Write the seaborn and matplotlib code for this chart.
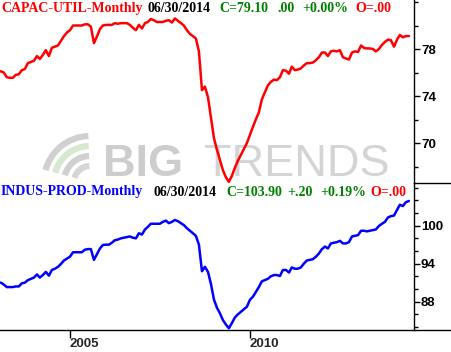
import numpy as np
import pandas as pd
import matplotlib
matplotlib.use("Agg")
import matplotlib.pyplot as plt
import seaborn as sns
from matplotlib.ticker import FixedLocator, MultipleLocator
from matplotlib.lines import Line2D
from matplotlib.transforms import Affine2D
from matplotlib.patches import Arc

# ---------------- data (monthly, Jan 2003 .. Jun 2014) ----------------
start_month = "2003-01-01"

capac_util = [
    76.1, 76.1, 76.0, 75.6, 75.55, 75.55, 75.8, 75.85, 76.2, 76.3, 76.8, 76.9,
    77.0, 77.4, 77.15, 77.5, 77.9, 77.4, 78.1, 78.2, 78.3, 78.7, 79.1, 79.4,
    79.6, 80.0, 80.0, 80.0, 80.0, 80.1, 80.1, 79.9, 78.5, 79.05, 79.7, 80.0,
    80.05, 80.05, 80.05, 80.2, 80.15, 80.2, 80.2, 80.2, 80.05, 79.8, 79.6, 80.05,
    79.75, 80.2, 80.3, 80.55, 80.45, 80.3, 80.3, 80.3, 80.4, 80.45, 80.25, 80.6,
    80.4, 80.2, 80.0, 79.6, 79.3, 79.1, 78.9, 77.8, 74.5, 74.8, 73.9, 72.2,
    70.4, 69.4, 68.6, 67.7, 67.1, 66.7, 67.2, 67.9, 68.5, 69.0, 69.5, 70.0,
    70.7, 71.4, 72.0, 72.6, 73.7, 74.3, 74.9, 75.2, 75.4, 75.35, 75.6, 76.2,
    76.15, 75.9, 76.5, 76.2, 76.25, 76.35, 76.6, 76.8, 76.8, 76.85, 77.05, 77.3,
    77.7, 77.7, 77.4, 77.8, 77.85, 77.8, 77.9, 77.3, 77.2, 77.1, 77.7, 77.8,
    77.75, 78.3, 78.1, 78.05, 78.05, 78.0, 77.8, 78.0, 78.35, 78.6, 78.8, 78.75,
    78.2, 78.8, 79.2, 79.0, 79.1, 79.1,
]

indus_prod = [
    91.0, 91.0, 90.7, 90.3, 90.3, 90.3, 90.4, 90.4, 90.9, 91.0, 91.4, 91.6,
    91.8, 92.3, 91.8, 92.2, 92.7, 92.1, 93.0, 93.2, 93.5, 93.95, 94.5, 94.8,
    95.1, 95.8, 95.8, 95.8, 95.8, 96.2, 96.3, 96.3, 94.6, 95.5, 96.4, 96.95,
    97.0, 97.0, 97.3, 97.7, 97.8, 98.0, 98.1, 98.2, 98.3, 98.1, 98.0, 98.8,
    98.6, 99.4, 99.8, 100.3, 100.3, 100.3, 100.3, 100.6, 100.8, 100.4, 100.6, 100.9,
    100.7, 100.4, 100.1, 99.6, 99.2, 98.8, 98.4, 97.0, 92.8, 93.5, 92.7, 90.8,
    88.3, 87.0, 86.2, 85.1, 84.4, 83.8, 84.6, 85.5, 86.0, 86.4, 86.8, 87.2,
    88.3, 88.8, 89.5, 90.3, 91.2, 91.4, 91.6, 92.0, 92.2, 92.2, 92.05, 93.0,
    93.0, 92.6, 93.4, 93.2, 93.2, 93.4, 94.0, 94.5, 94.6, 94.7, 95.1, 95.6,
    96.3, 96.7, 96.4, 97.2, 97.3, 97.4, 97.6, 97.2, 97.2, 97.4, 98.3, 98.4,
    98.5, 99.2, 99.2, 99.1, 99.2, 99.3, 99.4, 99.95, 100.3, 100.6, 101.3, 101.5,
    101.6, 102.5, 103.3, 103.1, 103.7, 103.9,
]

top_ticks = [70, 74, 78]
bottom_ticks = [88, 94, 100]
year_ticks = ["2005", "2010"]

top_title = ["CAPAC-UTIL-Monthly", "06/30/2014", "C=79.10", ".00", "+0.00%", "O=.00"]
bottom_title = ["INDUS-PROD-Monthly", "06/30/2014", "C=103.90", "+.20", "+0.19%", "O=.00"]

dates = pd.date_range(start_month, periods=len(capac_util), freq="MS")
df = pd.DataFrame({"date": dates, "capac": capac_util, "indus": indus_prod})

# ---------------- figure ----------------
sns.set_theme(style="white")
plt.rcParams["font.family"] = ["Liberation Sans", "DejaVu Sans"]

W, H = 451, 352
fig = plt.figure(figsize=(W / 100, H / 100), dpi=100)
fig.patch.set_facecolor("white")

plot_right = 414
div_y = 183
bot_y = 330

ax_top = fig.add_axes([0, 1 - div_y / H, plot_right / W, div_y / H])
ax_bot = fig.add_axes([0, 1 - bot_y / H, plot_right / W, (bot_y - div_y) / H])

sns.lineplot(data=df, x="date", y="capac", ax=ax_top, color="#ff0000", lw=1.8, zorder=3)
sns.lineplot(data=df, x="date", y="indus", ax=ax_bot, color="#0000ff", lw=1.8, zorder=3)

ref = pd.Timestamp("2005-01-01")
xl = (ref - pd.Timedelta(days=710), ref + pd.Timedelta(days=3490))
for ax in (ax_top, ax_bot):
    ax.set_xlim(*xl)
    ax.set_xlabel("")
    ax.set_ylabel("")
    ax.grid(False)
    for s in ("top", "left"):
        ax.spines[s].set_visible(False)
    ax.spines["right"].set_color("black")
    ax.spines["right"].set_linewidth(1)
    ax.yaxis.tick_right()
    ax.tick_params(axis="y", which="major", direction="out", length=4, width=1,
                   color="black", pad=1, labelsize=9.5, labelcolor="black", right=True)
    ax.tick_params(axis="y", which="minor", direction="out", length=3, width=1,
                   color="black", right=True)

ax_top.set_ylim(66.6, 82.17)
ax_top.yaxis.set_major_locator(FixedLocator(top_ticks))
ax_top.yaxis.set_minor_locator(MultipleLocator(2))
ax_top.set_yticklabels([str(t) for t in top_ticks], fontweight="bold")
ax_top.spines["bottom"].set_visible(False)
ax_top.tick_params(axis="x", which="both", bottom=False, labelbottom=False)

ax_bot.set_ylim(83.52, 106.74)
ax_bot.yaxis.set_major_locator(FixedLocator(bottom_ticks))
ax_bot.yaxis.set_minor_locator(MultipleLocator(2))
ax_bot.set_yticklabels([str(t) for t in bottom_ticks], fontweight="bold")
ax_bot.spines["bottom"].set_color("black")
ax_bot.spines["bottom"].set_linewidth(1)
ax_bot.set_xticks([pd.Timestamp(y + "-01-01") for y in year_ticks])
ax_bot.set_xticklabels(year_ticks, fontweight="bold", ha="left")
ax_bot.tick_params(axis="x", which="major", direction="out", length=6, width=1,
                   color="black", pad=0, labelsize=9.5, bottom=True)
ax_bot.tick_params(axis="x", which="minor", bottom=False)

# divider lines extending into the label strip
fig.add_artist(Line2D([plot_right / W, 1], [1 - div_y / H] * 2, transform=fig.transFigure,
                      color="black", lw=1))
fig.add_artist(Line2D([plot_right / W, 1], [1 - bot_y / H] * 2, transform=fig.transFigure,
                      color="black", lw=1))

# ---------------- header texts ----------------
serif = ["Liberation Serif", "DejaVu Serif"]
def header(texts, xs, colors, yc):
    for t, x, c in zip(texts, xs, colors):
        fig.text(x / W, 1 - yc / H, t, color=c, family=serif, fontweight="bold",
                 fontsize=10, ha="left", va="center")

green = "#008000"
header(top_title, [1, 148, 219, 277, 302, 355],
       ["#ff0000", "black", green, green, green, "#ff0000"], 8.5)
header(bottom_title, [1, 154, 226, 287, 320, 370],
       ["#0000ff", "black", green, green, green, "#ff0000"], 192)

# ---------------- watermark ----------------
px = Affine2D().scale(1, -1).translate(0, H)   # figure pixels, origin top-left
fig.text(103 / W, 1 - 176 / H, "BIG", color="#cdcdcd", fontsize=32.5,
         fontweight="bold", ha="left", va="baseline", zorder=-1)
fig.text(204 / W, 1 - 176 / H, "TRENDS", color="#d4d4d4", fontsize=32.5,
         fontweight="light", ha="left", va="baseline", zorder=-1)
for r, c in [(46, "#d0d0d0"), (36, "#d6e9d0"), (26, "#d0d0d0"), (16, "#d6d6d6")]:
    arc = Arc((90, 182), 2 * r, 2 * r, angle=0, theta1=195, theta2=268,
              transform=px, color=c, lw=4.5, zorder=-1)
    fig.add_artist(arc)

ax_top.set_zorder(1)
ax_bot.set_zorder(1)
ax_top.patch.set_alpha(0)
ax_bot.patch.set_alpha(0)

fig.savefig("out.png", dpi=100)
